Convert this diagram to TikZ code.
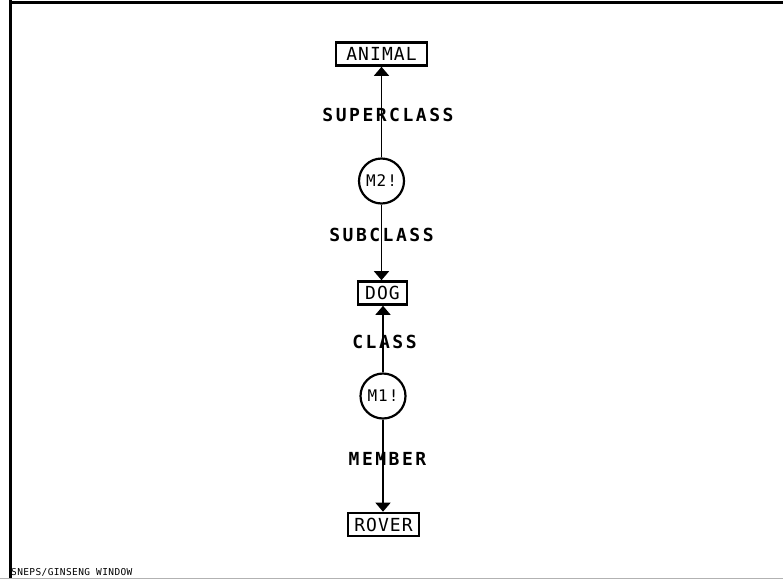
\documentclass[tikz,border=0pt]{standalone}
\usepackage{fontspec}
\usetikzlibrary{arrows.meta}
\newfontfamily\boxfont[LetterSpace=6]{DejaVu Sans Mono}
\newfontfamily\labfont[LetterSpace=14]{DejaVu Sans Mono Bold}
\newfontfamily\tinyfont[LetterSpace=4]{DejaVu Sans Mono}
\tikzset{
  termbox/.style={draw, line width=2.6pt, inner sep=0pt, minimum height=23pt,
    font=\boxfont\fontsize{18}{18}\selectfont},
  molnode/.style={draw, circle, line width=2.2pt, inner sep=0pt, minimum size=45pt,
    font=\boxfont\fontsize{16}{16}\selectfont},
  arclabel/.style={font=\labfont\fontsize{18}{18}\selectfont, inner sep=0pt},
  arc/.style={line width=1.4pt, -{Triangle[width=15pt,length=9pt]}},
}
\begin{document}
\begin{tikzpicture}[x=1pt,y=-1pt]
\useasboundingbox (0,0) rectangle (783,579);
\draw[line width=3pt] (10,0) -- (10,579);
\draw[line width=3pt] (10,2) -- (783,2);
\draw[line width=1pt, gray!60] (0,578.5) -- (783,578.5);

\node[termbox, minimum width=91pt] (animal) at (381.5,54) {ANIMAL};
\node[molnode] (m2) at (381.5,181) {M2!};
\node[termbox, minimum width=49pt] (dog) at (382.5,293) {DOG};
\node[molnode] (m1) at (383,396) {M1!};
\node[termbox, minimum width=71pt] (rover) at (383.5,524.5) {ROVER};

\draw[arc] (m2) -- (animal.south -| m2);
\draw[arc] (m2) -- (dog.north -| m2);
\draw[arc] (m1) -- (dog.south -| m1);
\draw[arc] (m1) -- (rover.north -| m1);

\node[arclabel] (lsuper) at (388,115) {SUPERCLASS};
\node[arclabel] (lsub) at (381.5,235) {SUBCLASS};
\node[arclabel] (lclass) at (384.5,342) {CLASS};
\node[arclabel] (lmember) at (387.5,459) {MEMBER};

\node[font=\tinyfont\fontsize{9.5}{9.5}\selectfont, anchor=base west, inner sep=0pt] (title) at (11,575) {SNEPS/GINSENG WINDOW};
\end{tikzpicture}
\end{document}
